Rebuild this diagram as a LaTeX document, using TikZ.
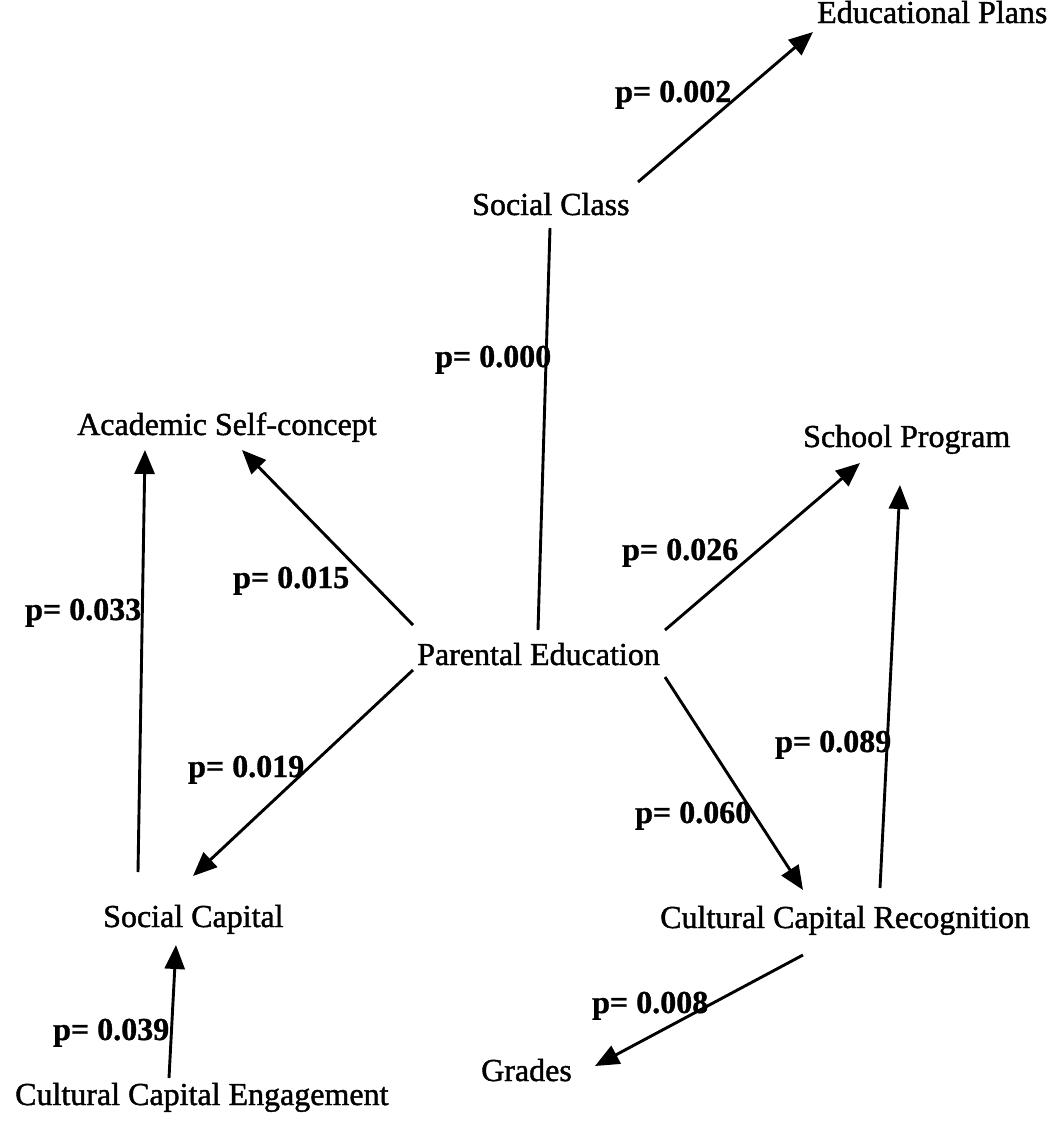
\documentclass[tikz,border=0pt]{standalone}
\usepackage{fontspec}
\setmainfont{Liberation Serif}
\newfontfamily\varfont{Liberation Serif}[FakeBold=1.3]
\newfontfamily\pfont{Liberation Serif}[BoldFeatures={FakeBold=1.0}]
\usetikzlibrary{arrows.meta,calc}
\begin{document}
\begin{tikzpicture}[x=1pt,y=-1pt,
  var/.style={inner sep=0pt,anchor=base west,font=\fontsize{32}{38}\varfont},
  pval/.style={inner sep=0pt,anchor=base west,font=\fontsize{32}{38}\pfont\bfseries},
  link/.style={line width=2.9pt},
  arr/.style={link,-{Triangle[length=24pt,width=20pt]}}]
\useasboundingbox (0,0) rectangle (1057,1125);
\fill[white] (0,0) rectangle (1057,1125);
% variables
\node[var] (EP) at (817,23) {Educational Plans};
\node[var] (SCl) at (472,215) {Social Class};
\node[var] (ASC) at (77,435) {Academic Self-concept};
\node[var] (SP) at (803,447) {School Program};
\node[var] (PE) at (417,665) {Parental Education};
\node[var] (SCap) at (103,927) {Social Capital};
\node[var] (CCR) at (660,928) {Cultural Capital Recognition};
\node[var] (GR) at (481,1081) {Grades};
\node[var] (CCE) at (15,1105) {Cultural Capital Engagement};
% p values
\node[pval] (p1) at (615,102) {p= 0.002};
\node[pval] (p2) at (435,367) {p= 0.000};
\node[pval] (p3) at (233,588) {p= 0.015};
\node[pval] (p4) at (622,560) {p= 0.026};
\node[pval] (p5) at (25,620) {p= 0.033};
\node[pval] (p6) at (188,777) {p= 0.019};
\node[pval] (p7) at (635,823) {p= 0.060};
\node[pval] (p8) at (775,752) {p= 0.089};
\node[pval] (p9) at (53,1040) {p= 0.039};
\node[pval] (p10) at (592,1013) {p= 0.008};
% connectors
\draw[arr] ($(SCl.base west)+(166,-33)$) -- ($(EP.base west)+(-4,9)$);
\draw[link] ($(SCl.base west)+(78,13)$) -- ($(PE.base west)+(121,-35)$);
\draw[arr] ($(PE.base west)+(-4,-40)$) -- ($(ASC.base west)+(165,15)$);
\draw[arr] ($(PE.base west)+(248,-35)$) -- ($(SP.base west)+(57,16)$);
\draw[arr] ($(PE.base west)+(-4,5)$) -- ($(SCap.base west)+(90,-51)$);
\draw[arr] ($(PE.base west)+(248,12)$) -- ($(CCR.base west)+(143,-38)$);
\draw[arr] ($(SCap.base west)+(35,-55)$) -- ($(ASC.base west)+(68,15)$);
\draw[arr] ($(CCR.base west)+(220,-40)$) -- ($(SP.base west)+(97,38)$);
\draw[arr] ($(CCE.base west)+(154,-27)$) -- ($(SCap.base west)+(73,18)$);
\draw[arr] ($(CCR.base west)+(143,27)$) -- ($(GR.base west)+(114,-15)$);
\end{tikzpicture}
\end{document}
